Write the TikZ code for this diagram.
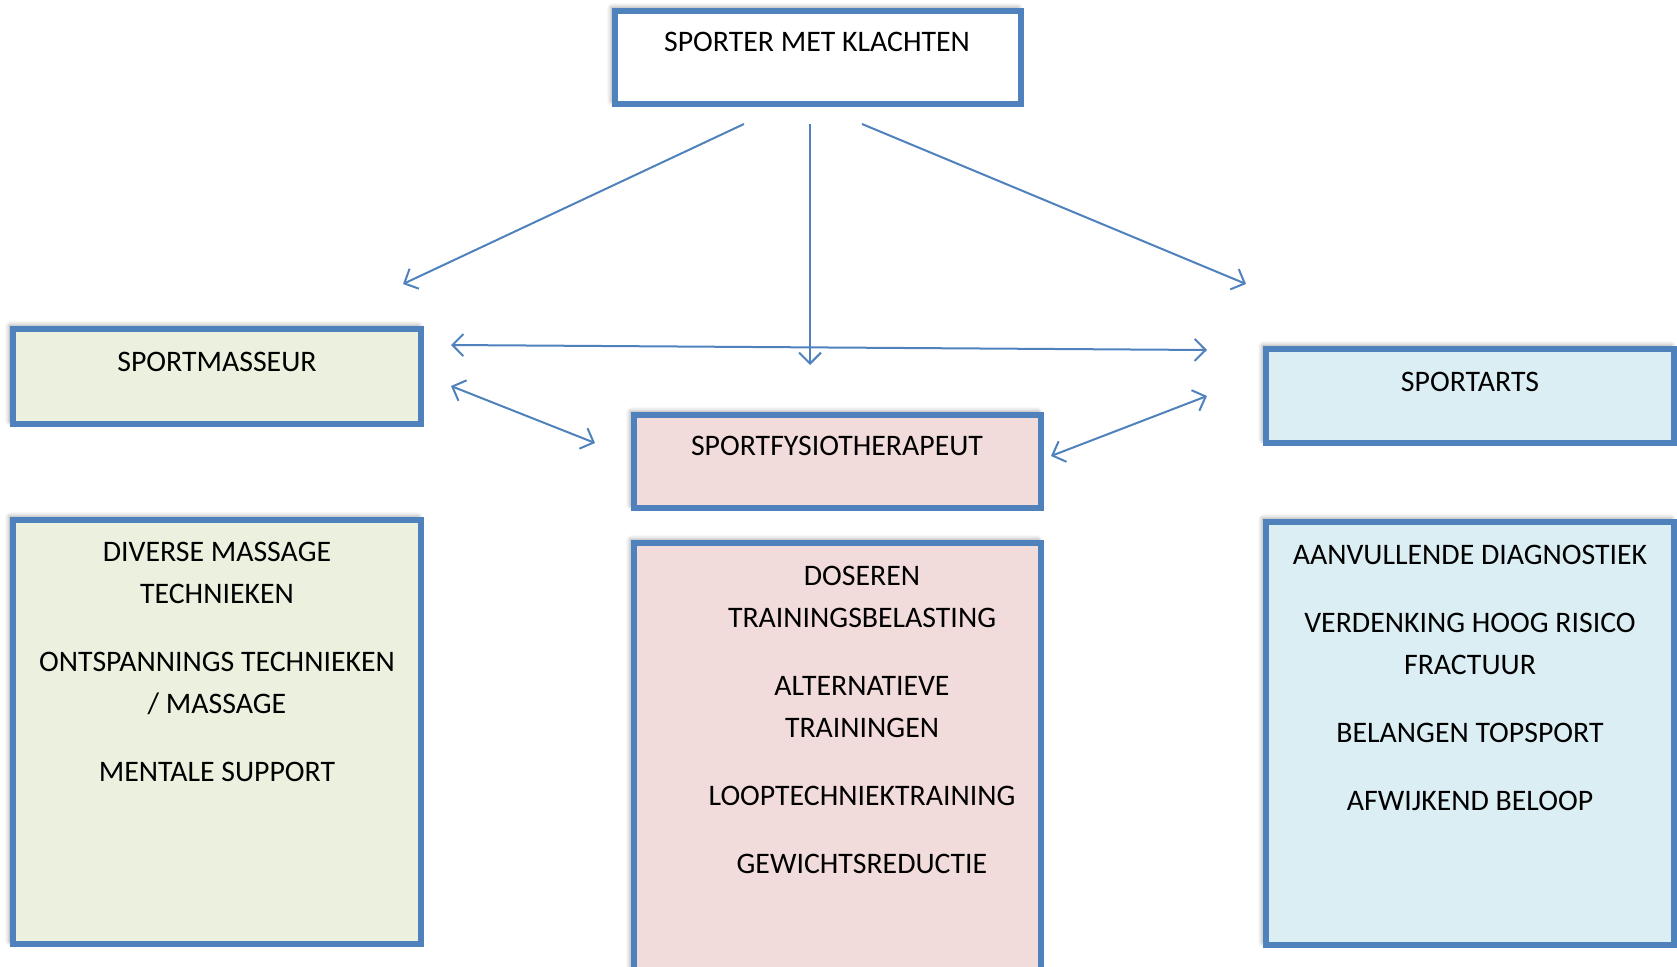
\documentclass[tikz,border=0pt]{standalone}
\usepackage{fontspec}
\setmainfont{Carlito}
\usetikzlibrary{arrows.meta,shadows.blur}
\definecolor{obl}{HTML}{4F81BD}
\definecolor{fgreen}{HTML}{EBF1DE}
\definecolor{fpink}{HTML}{F2DCDB}
\definecolor{fblue}{HTML}{DBEEF4}
\tikzset{
  boxstyle/.style={draw=obl, line width=5.5pt,
    blur shadow={shadow xshift=-3pt, shadow yshift=3pt, shadow blur radius=5pt, shadow opacity=45}},
  conn/.style={draw=obl, line width=2pt, -{Straight Barb[length=11pt,width=22pt,line width=2pt]}},
  dconn/.style={draw=obl, line width=2pt, {Straight Barb[length=11pt,width=22pt,line width=2pt]}-{Straight Barb[length=11pt,width=22pt,line width=2pt]}},
  lbl/.style={font=\fontsize{29.8}{42}\selectfont, inner sep=0pt, align=center, anchor=north}
}
\begin{document}
\begin{tikzpicture}[x=1pt,y=-1pt]
\useasboundingbox (0,0) rectangle (1677,966);
% boxes
\path[boxstyle, fill=white] (615,11) rectangle (1021,104);
\node[lbl] (top) at (817,32) {SPORTER MET KLACHTEN};
\path[boxstyle, fill=fgreen] (13,329) rectangle (421,424);
\node[lbl] (masseur) at (217,352) {SPORTMASSEUR};
\path[boxstyle, fill=fpink] (634,415) rectangle (1041,508);
\node[lbl] (fysio) at (837,436) {SPORTFYSIOTHERAPEUT};
\path[boxstyle, fill=fblue] (1266,349) rectangle (1674,443);
\node[lbl] (arts) at (1470,372) {SPORTARTS};
\path[boxstyle, fill=fgreen] (13,520) rectangle (421,944);
\node[lbl] (ltext) at (217,542) {DIVERSE MASSAGE\\TECHNIEKEN\\[26pt]ONTSPANNINGS TECHNIEKEN\\/ MASSAGE\\[26pt]MENTALE SUPPORT};
\path[boxstyle, fill=fpink] (634,543) rectangle (1041,990);
\node[lbl] (mtext) at (862,566) {DOSEREN\\TRAININGSBELASTING\\[26pt]ALTERNATIEVE\\TRAININGEN\\[26pt]LOOPTECHNIEKTRAINING\\[26pt]GEWICHTSREDUCTIE};
\path[boxstyle, fill=fblue] (1266,522) rectangle (1674,945);
\node[lbl] (rtext) at (1470,545) {AANVULLENDE DIAGNOSTIEK\\[26pt]VERDENKING HOOG RISICO\\FRACTUUR\\[26pt]BELANGEN TOPSPORT\\[26pt]AFWIJKEND BELOOP};
% connector endpoints
\coordinate (a1) at (744,124); \coordinate (a2) at (403,284);
\coordinate (b1) at (810,124); \coordinate (b2) at (810,365);
\coordinate (c1) at (862,124); \coordinate (c2) at (1246,284);
\coordinate (d1) at (451,345); \coordinate (d2) at (1207,350);
\coordinate (e1) at (451,386); \coordinate (e2) at (595,443);
\coordinate (f1) at (1051,456); \coordinate (f2) at (1207,396);
\draw[conn] (a1) -- (a2);
\draw[conn] (b1) -- (b2);
\draw[conn] (c1) -- (c2);
\draw[dconn] (d1) -- (d2);
\draw[dconn] (e1) -- (e2);
\draw[dconn] (f1) -- (f2);
\end{tikzpicture}
\end{document}
